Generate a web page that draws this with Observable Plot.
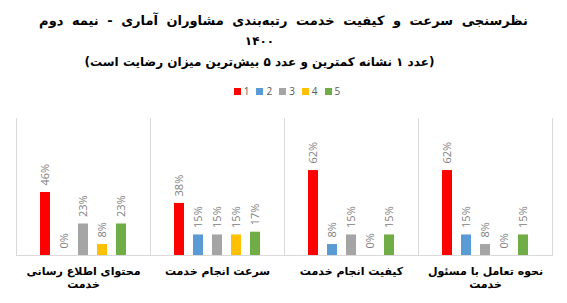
<!DOCTYPE html>
<html><head><meta charset="utf-8">
<script src="https://cdn.jsdelivr.net/npm/d3@7"></script>
<script src="https://cdn.jsdelivr.net/npm/@observablehq/plot@0.6"></script>
<style>
body{margin:0;background:#fff;width:567px;height:303px;overflow:hidden;font-family:"DejaVu Sans",sans-serif}
#title{padding-top:10px;height:83px;box-sizing:border-box}
.t{direction:rtl;text-align:center;font-weight:bold;font-size:12px;color:#000;line-height:21px;white-space:nowrap}
.t1{font-size:13px;word-spacing:4px}
.t2{padding-right:48px}
#legend{height:17px}
#legend > div{justify-content:center;min-height:16px !important;margin:0 !important;padding-left:14px;font-family:"Open Sans",sans-serif;font-size:10px;color:#595959}
#legend > div > span{margin-right:7px !important}
#legend svg{margin-right:3px !important}
#chart{height:203px}
</style></head><body>
<div id="title"></div>
<div id="legend"></div>
<div id="chart"></div>
<script>
const titleLines = [
  "نظرسنجی سرعت و کیفیت خدمت رتبه‌بندی مشاوران آماری - نیمه دوم",
  "۱۴۰۰",
  "(عدد ۱ نشانه کمترین و عدد ۵ بیش‌ترین میزان رضایت است)"
];
const categories = [
  "محتوای اطلاع رسانی\nخدمت",
  "سرعت انجام خدمت",
  "کیفیت انجام خدمت",
  "نحوه تعامل با مسئول\nخدمت"
];
const ratings = ["1", "2", "3", "4", "5"];
const colors = ["#ff0000", "#5b9bd5", "#a5a5a5", "#ffc000", "#70ad47"];
const rating1 = [46, 38, 62, 62];
const rating2 = [0, 15, 8, 15];
const rating3 = [23, 15, 15, 8];
const rating4 = [8, 15, 0, 0];
const rating5 = [23, 17, 15, 15];

const series = [rating1, rating2, rating3, rating4, rating5];
const data = categories.flatMap((c, i) => ratings.map((r, j) => ({category: c, rating: r, value: series[j][i] / 100})));

const title = document.getElementById("title");
titleLines.forEach((s, i) => {
  const d = document.createElement("div");
  d.className = "t" + (i > 0 ? " t2" : " t1");
  d.textContent = s;
  title.appendChild(d);
});

document.getElementById("legend").appendChild(
  Plot.legend({color: {type: "ordinal", domain: ratings, range: colors}, swatchSize: 7})
);

document.getElementById("chart").appendChild(Plot.plot({
  width: 567, height: 203,
  marginTop: 18, marginBottom: 48, marginLeft: 14, marginRight: 14,
  style: {background: "#fff", overflow: "visible"},
  fx: {domain: categories, padding: 0, axis: null},
  x: {domain: ratings, paddingInner: 0.49, paddingOuter: 1.19, axis: null},
  y: {domain: [0, 1], axis: null},
  color: {domain: ratings, range: colors},
  marks: [
    Plot.frame({anchor: "left", stroke: "#d9d9d9"}),
    Plot.frame({anchor: "right", stroke: "#d9d9d9"}),
    Plot.ruleY([0], {stroke: "#d9d9d9"}),
    Plot.barY(data, {fx: "category", x: "rating", y: "value", fill: "rating"}),
    Plot.text(data, {fx: "category", x: "rating", y: "value", text: d => Math.round(d.value * 100) + "%",
      rotate: -90, textAnchor: "start", dy: -7, fill: "#808080", fontSize: 11, fontFamily: "Open Sans"}),
    Plot.axisFx({anchor: "bottom", tickSize: 0, tickPadding: 10, label: null, fontWeight: "bold",
      fontSize: 11, lineHeight: 1.2, fill: "#000", fontFamily: "DejaVu Sans"})
  ]
}));
</script>
</body></html>
